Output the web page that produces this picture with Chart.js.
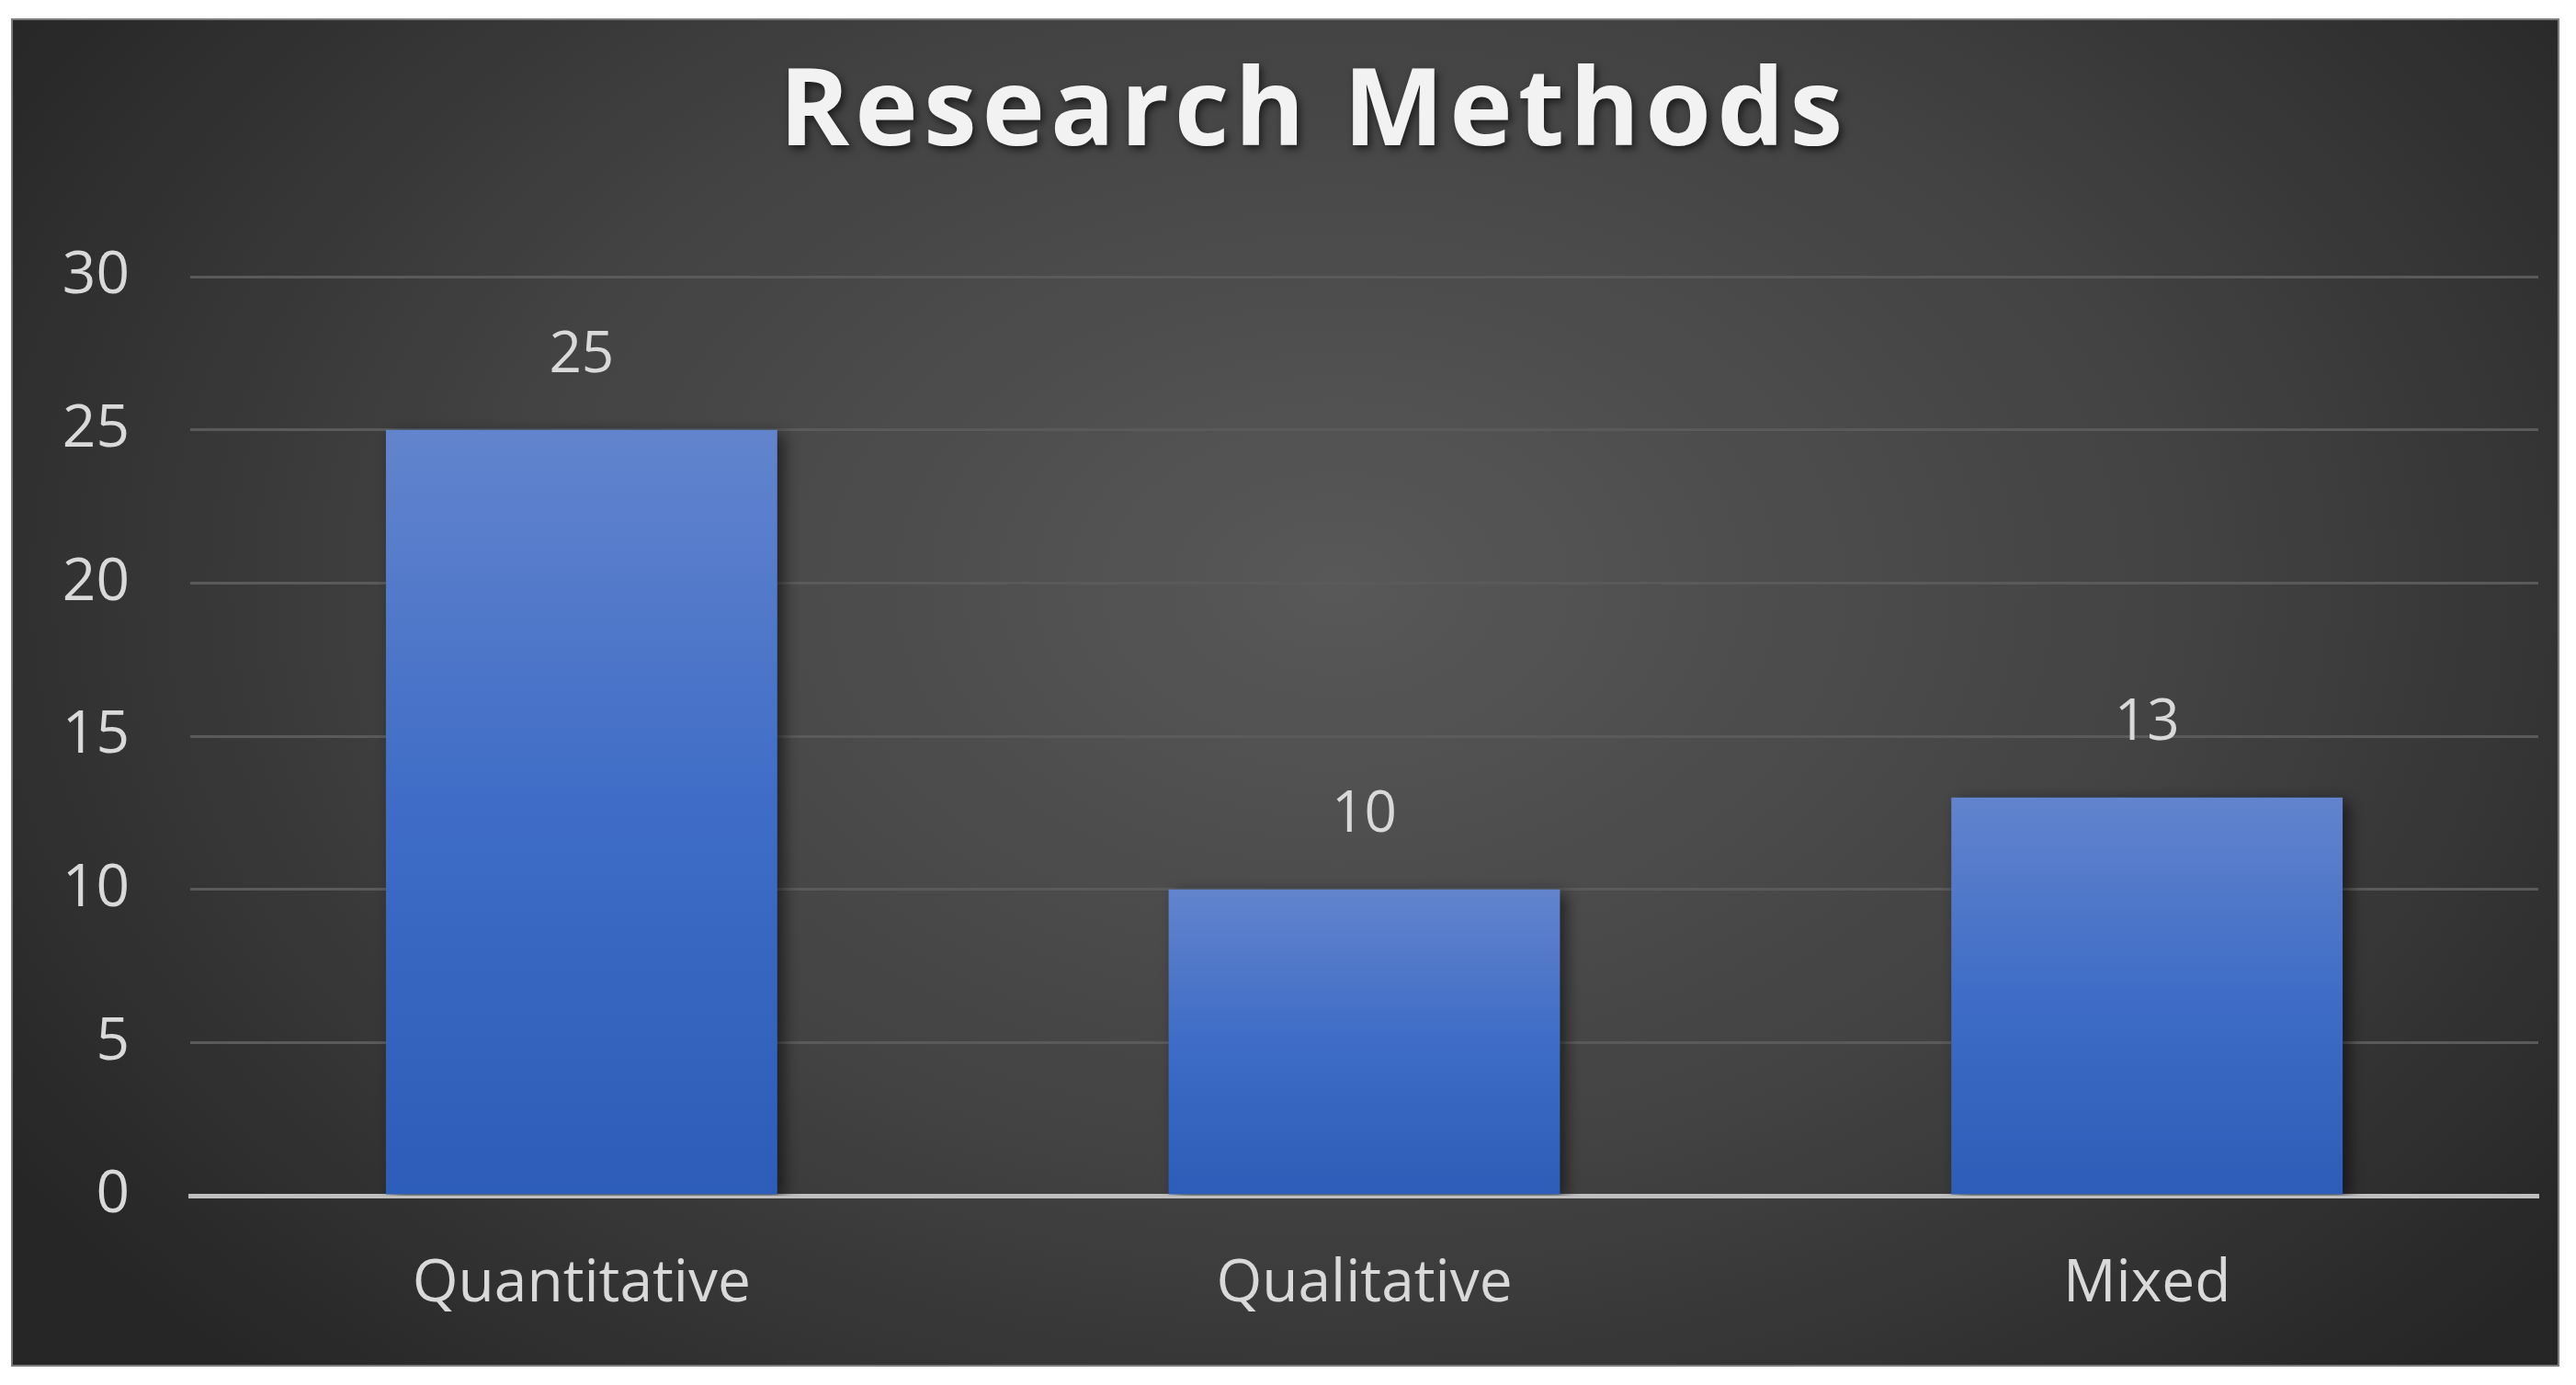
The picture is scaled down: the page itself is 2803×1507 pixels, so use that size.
<!DOCTYPE html>
<html>
<head>
<meta charset="utf-8">
<script src="https://cdn.jsdelivr.net/npm/chart.js@4"></script>
<style>
  html, body { margin: 0; padding: 0; background: #ffffff; }
  #box {
    position: absolute; left: 12px; top: 20px;
    width: 2769px; height: 1463px;
    border: 2px solid #7c7c7c;
  }
  canvas { display: block; }
</style>
</head>
<body>
<div id="box"><canvas id="chart" width="2769" height="1463"></canvas></div>
<script>
const categories = ['Quantitative', 'Qualitative', 'Mixed'];
const counts = [25, 10, 13];
const yTicks = [0, 5, 10, 15, 20, 25, 30];
const chartTitle = 'Research Methods';

const FONT = '"Open Sans", "Noto Sans", sans-serif';
const LABEL = '#d9d9d9';

// dark radial backdrop like the office "style 8" chart
const backdrop = {
    id: 'backdrop',
    beforeDraw(chart) {
        const { ctx, width, height } = chart;
        const k = height / width * 1.3;
        ctx.save();
        const cx = width * 0.52, cy = height * 0.42;
        ctx.translate(cx, cy);
        ctx.scale(1, k);
        const g = ctx.createRadialGradient(0, 0, 0, 0, 0, width * 0.62);
        g.addColorStop(0, '#585858');
        g.addColorStop(0.55, '#424242');
        g.addColorStop(1, '#262626');
        ctx.fillStyle = g;
        ctx.fillRect(-cx, -cy / k, width, height / k);
        ctx.restore();
    }
};

// spaced-out bold title with a drop shadow (built-in title has no letter spacing)
const spacedTitle = {
    id: 'spacedTitle',
    afterDraw(chart) {
        const ctx = chart.ctx;
        ctx.save();
        ctx.font = 'bold 116px ' + FONT;
        ctx.letterSpacing = '6px';
        ctx.textAlign = 'center';
        ctx.textBaseline = 'middle';
        ctx.shadowColor = 'rgba(0,0,0,0.6)';
        ctx.shadowBlur = 8;
        ctx.shadowOffsetX = 3;
        ctx.shadowOffsetY = 4;
        ctx.fillStyle = '#f2f2f2';
        ctx.fillText(chartTitle, chart.width / 2 + 31, 103);
        ctx.restore();
    }
};

// soft shadow behind bars
const barShadow = {
    id: 'barShadow',
    beforeDatasetsDraw(chart) {
        const ctx = chart.ctx;
        ctx.save();
        ctx.shadowColor = 'rgba(0,0,0,0.55)';
        ctx.shadowBlur = 16;
        ctx.shadowOffsetX = 7;
        ctx.shadowOffsetY = 4;
    },
    afterDatasetsDraw(chart) {
        chart.ctx.restore();
    }
};

// value labels above bars
const valueLabels = {
    id: 'valueLabels',
    afterDatasetsDraw(chart) {
        const ctx = chart.ctx;
        const meta = chart.getDatasetMeta(0);
        ctx.save();
        ctx.font = '62px ' + FONT;
        ctx.fillStyle = LABEL;
        ctx.textAlign = 'center';
        ctx.textBaseline = 'middle';
        meta.data.forEach((bar, i) => {
            ctx.fillText(String(counts[i]), bar.x, bar.y - 80);
        });
        ctx.restore();
    }
};

function barFill(context) {
    const chart = context.chart;
    const { y } = chart.scales;
    if (!y || context.parsed === undefined) return '#4472c4';
    const top = y.getPixelForValue(context.parsed.y);
    const bottom = y.getPixelForValue(0);
    if (!isFinite(top) || !isFinite(bottom) || top === bottom) return '#4472c4';
    const g = chart.ctx.createLinearGradient(0, top, 0, bottom);
    g.addColorStop(0, '#6284cd');
    g.addColorStop(0.5, '#3e6cc6');
    g.addColorStop(1, '#2c5db8');
    return g;
}

new Chart(document.getElementById('chart'), {
    type: 'bar',
    data: {
        labels: categories,
        datasets: [{
            data: counts,
            backgroundColor: barFill,
            borderWidth: 0,
            categoryPercentage: 1.0,
            barPercentage: 0.5
        }]
    },
    options: {
        responsive: false,
        animation: false,
        events: [],
        layout: { padding: { left: 0, right: 21, top: 279, bottom: 0 } },
        plugins: {
            legend: { display: false },
            tooltip: { enabled: false },
            title: { display: false }
        },
        scales: {
            x: {
                grid: { display: false, drawTicks: false },
                border: { display: true, color: '#bfbfbf', width: 5 },
                ticks: { color: LABEL, font: { family: FONT, size: 64 }, padding: 58 },
                afterFit(s) { s.height = 184; }
            },
            y: {
                min: 0, max: 30,
                afterBuildTicks(s) { s.ticks = yTicks.map(v => ({ value: v })); },
                grid: { color: '#5a5a5a', lineWidth: 3, drawTicks: false },
                border: { display: false },
                ticks: { color: LABEL, font: { family: FONT, size: 64 }, padding: 66 },
                afterFit(s) { s.width = 193; }
            }
        }
    },
    plugins: [backdrop, barShadow, valueLabels, spacedTitle]
});
</script>
</body>
</html>
